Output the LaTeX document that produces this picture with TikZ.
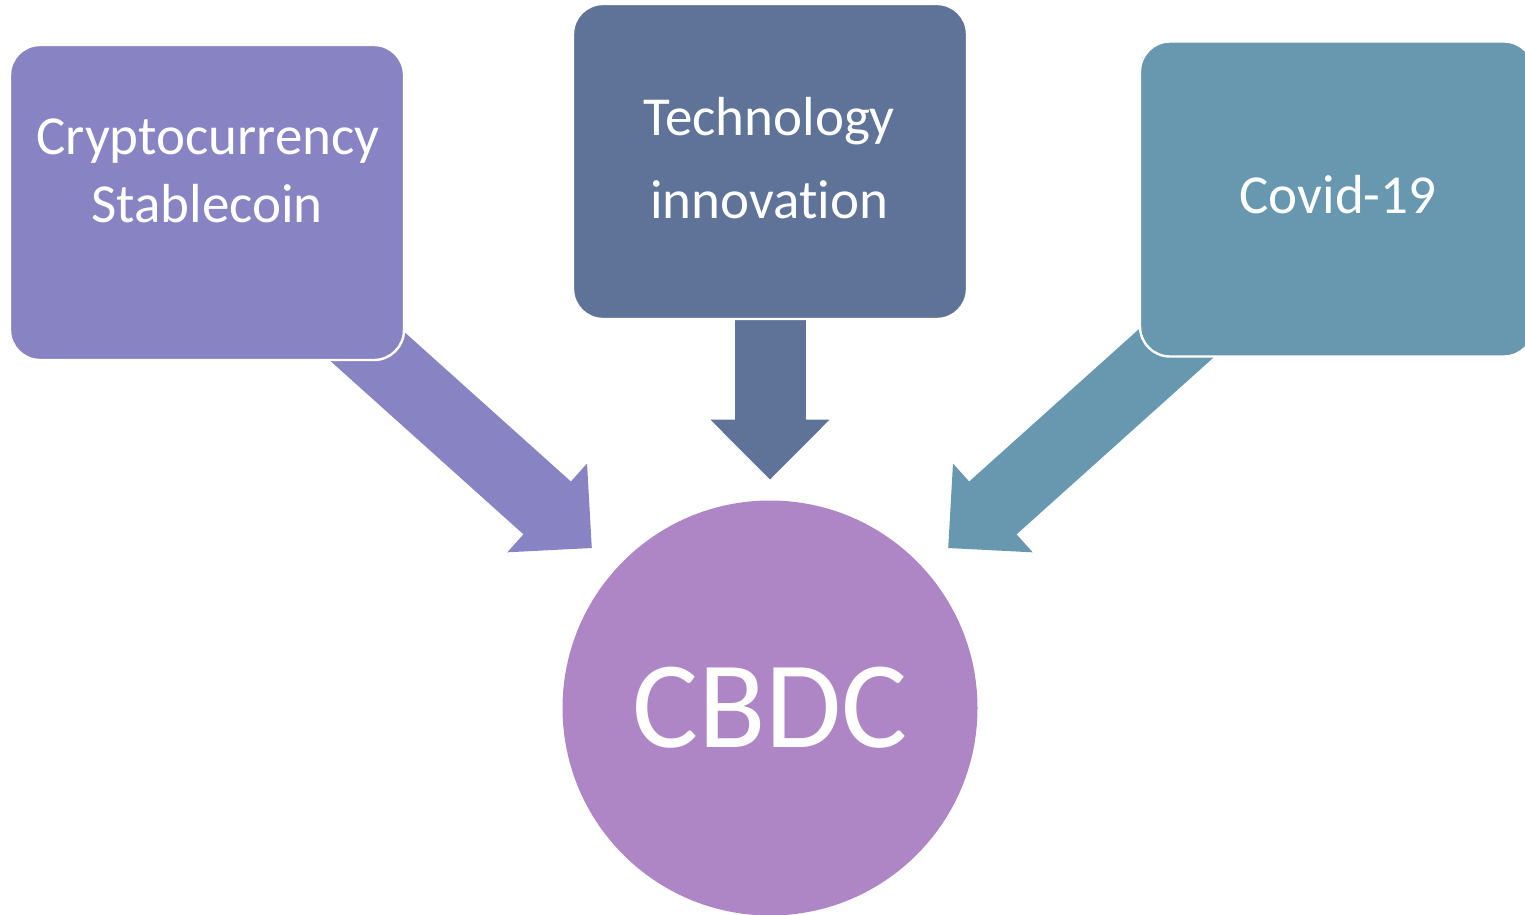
\documentclass[tikz,border=0pt]{standalone}
\usepackage{fontspec}
\setmainfont{Carlito}[Ligatures=NoCommon]
\usetikzlibrary{arrows.meta,backgrounds}

\definecolor{cryptocol}{HTML}{8884C4}
\definecolor{techcol}{HTML}{5F7398}
\definecolor{covidcol}{HTML}{6898B0}
\definecolor{cbdccol}{HTML}{AE85C5}

\tikzset{
  box/.style={rectangle, rounded corners=15pt, draw=white, line width=1.2pt,
    minimum width=197pt, minimum height=157.5pt, inner sep=0pt, outer sep=0pt},
  boxtext/.style={text=white, font=\fontsize{27.5}{33}\selectfont, anchor=base, inner sep=0pt},
  flow/.style={line width=35.5pt, -{Triangle[width=59.5pt,length=30pt,line width=1pt]}},
}

\begin{document}
\begin{tikzpicture}[x=0.5pt,y=-0.5pt]
  \useasboundingbox (0,0) rectangle (1525,915);

  % the three causes
  \node[box, fill=cryptocol] (crypto) at (207,202.5) {};
  \node[box, fill=techcol]   (tech)   at (770,161.5) {};
  \node[box, fill=covidcol]  (covid)  at (1337,199)  {};

  \node[boxtext] (crypto1) at (208,155) {Cryptocurrency};
  \node[boxtext] (crypto2) at (207,222) {Stablecoin};
  \node[boxtext] (tech1)   at (769,135) {Technology};
  \node[boxtext] (tech2)   at (769,218) {innovation};
  \node[boxtext] (covid1)  at (1338,213) {Covid-19};

  % result
  \node[circle, fill=cbdccol, minimum size=207.5pt, inner sep=0pt, outer sep=0pt,
        text=white, font=\fontsize{62}{70}\selectfont] (cbdc) at (770,708) {CBDC};

  % block arrows behind the boxes
  \begin{scope}[on background layer]
    \draw[flow, cryptocol, shorten >=16pt]  (crypto.center) -- (cbdc);
    \draw[flow, techcol, shorten >=10.5pt]  (tech.center)   -- (cbdc);
    \draw[flow, covidcol, shorten >=16pt]   (covid.center)  -- (cbdc);
  \end{scope}
\end{tikzpicture}
\end{document}
